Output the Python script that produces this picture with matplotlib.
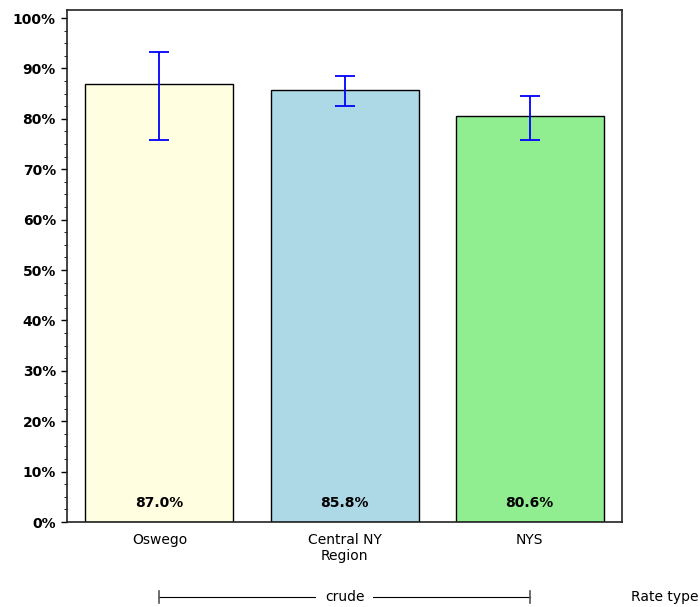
import matplotlib.pyplot as plt
import matplotlib.transforms as mtransforms
from matplotlib.ticker import MultipleLocator, FuncFormatter

# data
regions = ['Oswego', 'Central NY\nRegion', 'NYS']
rates = [87.0, 85.8, 80.6]
ci_low = [75.8, 82.6, 75.8]
ci_high = [93.3, 88.5, 84.5]
colors = ['#FFFEE0', '#ADD8E6', '#90EE90']

fig = plt.figure(figsize=(7, 6.07), dpi=100)
ax = fig.add_axes([0.0957, 0.140, 0.7929, 0.8435])

x = list(range(len(regions)))
ax.bar(x, rates, width=0.8, color=colors, edgecolor='black', linewidth=1)
yerr = [[r - lo for r, lo in zip(rates, ci_low)], [hi - r for r, hi in zip(rates, ci_high)]]
ax.errorbar(x, rates, yerr=yerr, fmt='none', ecolor='blue', elinewidth=1.3, capsize=7, capthick=1.3)

for xi, r in zip(x, rates):
    ax.text(xi, 3.8, f'{r:.1f}%', ha='center', va='center', fontsize=10, fontweight='bold')

ax.set_xlim(-0.5, 2.5)
ax.set_ylim(0, 101.6)
ax.yaxis.set_major_locator(MultipleLocator(10))
ax.yaxis.set_minor_locator(MultipleLocator(2.5))
ax.yaxis.set_major_formatter(FuncFormatter(lambda v, p: f'{v:.0f}%'))
for lbl in ax.get_yticklabels():
    lbl.set_fontweight('bold')
ax.tick_params(axis='y', labelsize=10, length=4, width=1, pad=4)
ax.tick_params(axis='y', which='minor', length=2)
ax.set_xticks(x)
ax.set_xticklabels(regions, fontsize=10)
ax.tick_params(axis='x', length=0, pad=8)
for s in ax.spines.values():
    s.set_linewidth(1.2)
    s.set_color('#222222')

# rate type bracket
trans = mtransforms.blended_transform_factory(ax.transData, ax.transAxes)
yb = -0.146
ax.plot([0, 2], [yb, yb], color='black', lw=0.8, transform=trans, clip_on=False)
for xe in [0, 2]:
    ax.plot([xe, xe], [yb - 0.012, yb + 0.012], color='#555555', lw=1.2, transform=trans, clip_on=False)
ax.text(1, yb, 'crude', ha='center', va='center', fontsize=10, transform=trans,
        bbox=dict(facecolor='white', edgecolor='none', pad=6))
fig.text(631 / 700, 1 - 597 / 607, 'Rate type', ha='left', va='center', fontsize=10)

fig.savefig('out.png', dpi=100)
